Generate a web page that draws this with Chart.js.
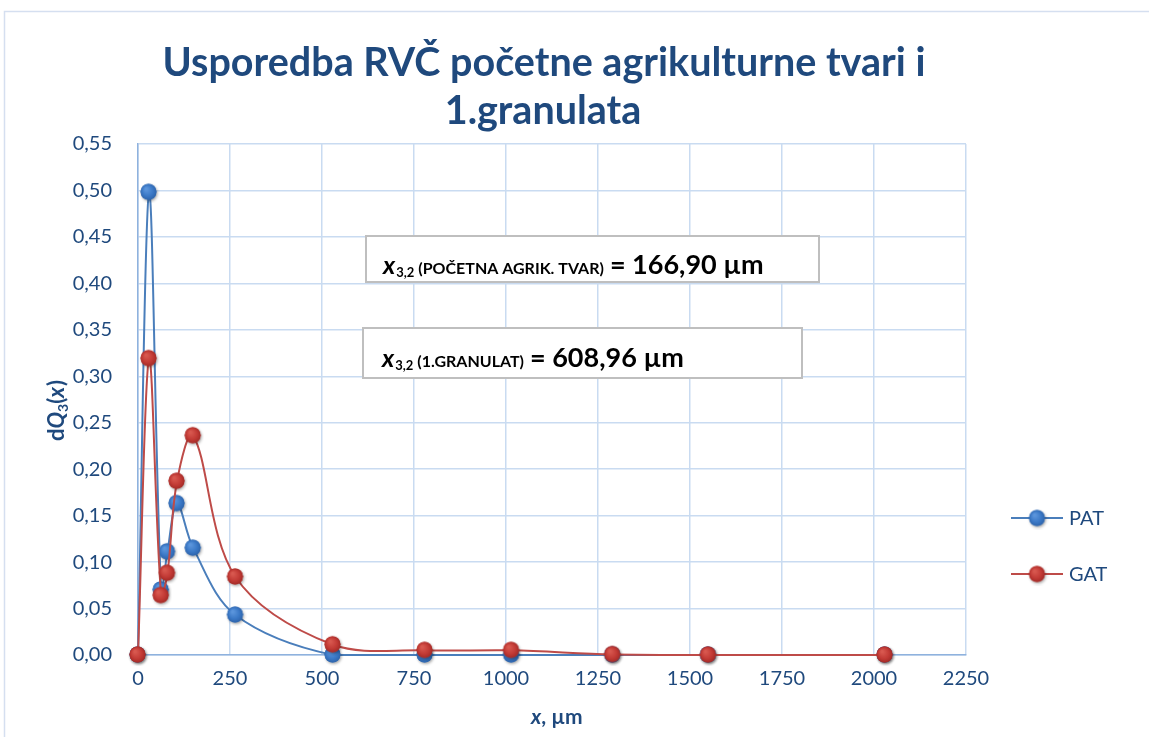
<!DOCTYPE html>
<html><head><meta charset="utf-8">
<script src="https://cdn.jsdelivr.net/npm/chart.js@4.4.0/dist/chart.umd.min.js"></script>
<style>html,body{margin:0;padding:0;background:#fff;}#wrap{width:1149px;height:737px;position:relative;}</style>
</head><body><div id="wrap"><canvas id="c" width="1149" height="737"></canvas></div>
<script>
const titleLines = ["Usporedba RVČ početne agrikulturne tvari i", "1.granulata"];
const xValues = [0, 30, 63, 80, 106, 150, 265, 530, 780, 1015, 1290, 1550, 2030];
const patValues = [0, 0.498, 0.070, 0.111, 0.163, 0.115, 0.043, 0, 0, 0, 0, 0, 0];
const gatValues = [0, 0.319, 0.064, 0.088, 0.187, 0.236, 0.084, 0.011, 0.005, 0.005, 0.0005, 0, 0];
const seriesNames = ["PAT", "GAT"];
const xTicks = [0, 250, 500, 750, 1000, 1250, 1500, 1750, 2000, 2250];
const yTicks = [0, 0.05, 0.10, 0.15, 0.20, 0.25, 0.30, 0.35, 0.40, 0.45, 0.50, 0.55];
const box1Label = ["(POČETNA AGRIK. TVAR)", "= 166,90 µm"];
const box2Label = ["(1.GRANULAT)", "= 608,96 µm"];

const FONT = "Lato, 'Open Sans', sans-serif";
const TXT = "#1F497D";
const BLUE_LINE = "#4a7ebb", RED_LINE = "#be4b48";

function marker(base, light, dark) {
  const s = 22, c = document.createElement('canvas'); c.width = s; c.height = s;
  const g = c.getContext('2d');
  g.save(); g.shadowColor = 'rgba(0,0,0,0.35)'; g.shadowBlur = 3; g.shadowOffsetX = 1; g.shadowOffsetY = 1.5;
  g.beginPath(); g.arc(10.5, 10.5, 8, 0, Math.PI * 2); g.fillStyle = base; g.fill(); g.restore();
  const gr = g.createRadialGradient(8, 7.5, 1, 10.5, 10.5, 8.5);
  gr.addColorStop(0, light); gr.addColorStop(0.6, base); gr.addColorStop(1, dark);
  g.beginPath(); g.arc(10.5, 10.5, 8, 0, Math.PI * 2); g.fillStyle = gr; g.fill();
  return c;
}
const blueMk = marker('#3a78c6', '#5b95dc', '#2d62a8');
const redMk = marker('#c23a35', '#d8584f', '#a02a26');

function pts(ys) { return xValues.map((x, i) => ({x: x, y: ys[i]})); }

function runs(ctx, x, y, parts) {
  let cx = x;
  for (const p of parts) {
    ctx.font = p.font; ctx.fillText(p.text, cx, y + (p.dy || 0));
    cx += ctx.measureText(p.text).width + (p.gap || 0);
  }
}

const deco = {
  id: 'deco',
  beforeDraw(chart) {
    const ctx = chart.ctx; ctx.save();
    ctx.strokeStyle = '#d5dff0'; ctx.lineWidth = 1.5;
    ctx.beginPath(); ctx.moveTo(4.5, 737); ctx.lineTo(4.5, 11.5); ctx.lineTo(1149, 11.5); ctx.stroke();
    ctx.restore();
  },
  afterDatasetsDraw(chart) {
    const ctx = chart.ctx; ctx.save();
    function box(x1, y1, x2, y2) {
      ctx.fillStyle = '#fff'; ctx.fillRect(x1, y1, x2 - x1, y2 - y1);
      ctx.strokeStyle = '#bfbfbf'; ctx.lineWidth = 2; ctx.strokeRect(x1, y1, x2 - x1, y2 - y1);
    }
    box(366, 236, 819, 282);
    box(363, 328, 802, 378);
    ctx.fillStyle = '#000'; ctx.textAlign = 'left'; ctx.textBaseline = 'alphabetic';
    runs(ctx, 383, 274, [
      {text: 'x', font: "italic bold 25px " + FONT, gap: 1},
      {text: '3,2', font: "bold 13px " + FONT, dy: 3, gap: 4},
      {text: box1Label[0], font: "bold 16px " + FONT, gap: 6},
      {text: box1Label[1], font: "bold 27px " + FONT}
    ]);
    runs(ctx, 382, 367, [
      {text: 'x', font: "italic bold 25px " + FONT, gap: 1},
      {text: '3,2', font: "bold 13px " + FONT, dy: 3, gap: 4},
      {text: box2Label[0], font: "bold 16px " + FONT, gap: 6},
      {text: box2Label[1], font: "bold 27px " + FONT}
    ]);
    ctx.restore();
  },
  afterDraw(chart) {
    const ctx = chart.ctx; ctx.save();
    ctx.fillStyle = TXT; ctx.textBaseline = 'alphabetic';
    // title
    ctx.textAlign = 'center'; ctx.font = "bold 39.5px " + FONT;
    ctx.fillText(titleLines[0], 544, 76);
    ctx.fillText(titleLines[1], 543, 124);
    ctx.textAlign = 'left';
    // axis titles
    ctx.fillStyle = TXT;
    ctx.save(); ctx.translate(64, 441); ctx.rotate(-Math.PI / 2);
    runs(ctx, 0, 0, [
      {text: 'd', font: "bold 22px " + FONT},
      {text: 'Q', font: "italic bold 22px " + FONT},
      {text: '3', font: "bold 14px " + FONT, dy: 4},
      {text: '(', font: "bold 22px " + FONT},
      {text: 'x', font: "italic bold 22px " + FONT, gap: 1},
      {text: ')', font: "bold 22px " + FONT}
    ]);
    ctx.restore();
    runs(ctx, 531, 724, [
      {text: 'x', font: "italic bold 21px " + FONT},
      {text: ', µm', font: "bold 21px " + FONT}
    ]);
    // legend
    const leg = [[seriesNames[0], BLUE_LINE, blueMk, 518], [seriesNames[1], RED_LINE, redMk, 574]];
    for (const [name, col, mk, y] of leg) {
      ctx.strokeStyle = col; ctx.lineWidth = 2;
      ctx.beginPath(); ctx.moveTo(1011, y); ctx.lineTo(1063, y); ctx.stroke();
      ctx.drawImage(mk, 1037 - 10.5, y - 10.5);
      ctx.fillStyle = TXT; ctx.font = "20px " + FONT; ctx.textBaseline = 'middle';
      ctx.fillText(name, 1069, y + 1);
    }
    ctx.restore();
  }
};

new Chart(document.getElementById('c'), {
  type: 'scatter',
  data: {
    datasets: [
      {label: seriesNames[0], data: pts(patValues), showLine: true, borderColor: BLUE_LINE, borderWidth: 2,
       tension: 0.35, pointStyle: blueMk, pointRadius: 8, order: 2, clip: false},
      {label: seriesNames[1], data: pts(gatValues), showLine: true, borderColor: RED_LINE, borderWidth: 2,
       tension: 0.35, pointStyle: redMk, pointRadius: 8, order: 1, clip: false}
    ]
  },
  options: {
    responsive: false, animation: false, devicePixelRatio: 1,
    layout: {padding: {left: 0, right: 183, top: 144, bottom: 0}},
    plugins: {legend: {display: false}, tooltip: {enabled: false}},
    scales: {
      x: {
        type: 'linear', min: 0, max: 2250,
        afterBuildTicks: s => { s.ticks = xTicks.map(v => ({value: v})); },
        afterFit: s => { s.height = 82; },
        grid: {color: '#c9dbf1', lineWidth: 1.5, drawTicks: false},
        border: {color: '#8fb2de', width: 1.5},
        ticks: {color: TXT, font: {family: FONT, size: 20}, padding: 12, maxRotation: 0,
                callback: v => String(v)}
      },
      y: {
        type: 'linear', min: 0, max: 0.55,
        afterBuildTicks: s => { s.ticks = yTicks.map(v => ({value: v})); },
        afterFit: s => { s.width = 138; },
        grid: {color: '#c9dbf1', lineWidth: 1.5, drawTicks: false},
        border: {color: '#8fb2de', width: 1.5},
        ticks: {color: TXT, font: {family: FONT, size: 20}, padding: 26,
                callback: v => v.toFixed(2).replace('.', ',')}
      }
    }
  },
  plugins: [deco]
});
</script></body></html>
